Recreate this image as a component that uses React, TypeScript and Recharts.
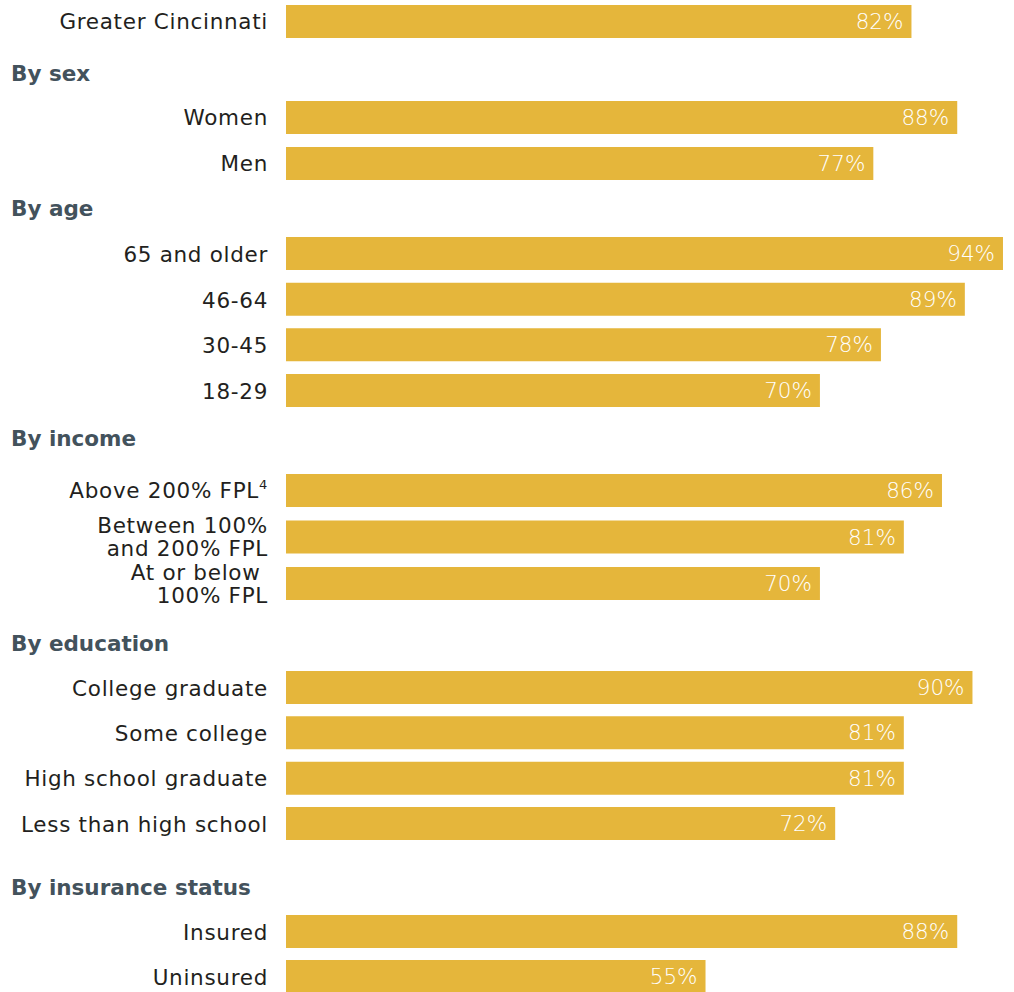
import React from 'react';
import { BarChart, Bar, XAxis, YAxis, LabelList } from 'recharts';

const overallLabels = ['Greater Cincinnati'];
const overallValues = [82];

const sexLabels = ['Women', 'Men'];
const sexValues = [88, 77];

const ageLabels = ['65 and older', '46-64', '30-45', '18-29'];
const ageValues = [94, 89, 78, 70];

const incomeLabels = ['Above 200% FPL', 'Between 100%\nand 200% FPL', 'At or below \n100% FPL'];
const incomeNotes = ['4', '', ''];
const incomeValues = [86, 81, 70];

const eduLabels = ['College graduate', 'Some college', 'High school graduate', 'Less than high school'];
const eduValues = [90, 81, 81, 72];

const insLabels = ['Insured', 'Uninsured'];
const insValues = [88, 55];

const headers = ['By sex', 'By age', 'By income', 'By education', 'By insurance status'];

const BAR_COLOR = '#E5B63B';
const HEADER_COLOR = '#43525C';
const TEXT_COLOR = '#231F20';
const FONT = '"DejaVu Sans", sans-serif';
const PAD = 10;

const Tick = (props: any) => {
  const { x, y, payload, notes, labels } = props;
  const label: string = payload.value;
  const idx = labels.indexOf(label);
  const note = notes ? notes[idx] : '';
  const lines = label.split('\n');
  const lh = 23;
  return (
    <text
      x={x}
      y={y}
      textAnchor="end"
      fill={TEXT_COLOR}
      fontFamily={FONT}
      fontSize={21.5}
      fontWeight={400}
      letterSpacing={0.7}
    >
      {lines.map((ln, i) => (
        <tspan key={i} x={x} dy={i === 0 ? -((lines.length - 1) / 2) * lh + 8 : lh}>
          {ln}
          {i === lines.length - 1 && note ? (
            <tspan fontSize={13} dy={-9}>{note}</tspan>
          ) : null}
        </tspan>
      ))}
    </text>
  );
};

const Group = ({ labels, values, notes, top, band }: any) => {
  const data = labels.map((name: string, i: number) => ({ name, value: values[i] }));
  const h = labels.length * band + PAD * 2;
  return (
    <div style={{ position: 'absolute', left: 0, top: top - PAD }}>
      <BarChart
        width={1014}
        height={h}
        data={data}
        layout="vertical"
        margin={{ top: PAD, bottom: PAD, left: 0, right: 11 }}
      >
        <XAxis type="number" domain={[0, 94]} hide />
        <YAxis
          type="category"
          dataKey="name"
          width={286}
          tickSize={0}
          tickMargin={18}
          axisLine={false}
          tickLine={false}
          interval={0}
          tick={<Tick notes={notes} labels={labels} />}
        />
        <Bar dataKey="value" fill={BAR_COLOR} barSize={33} isAnimationActive={false}>
          <LabelList
            dataKey="value"
            position="insideRight"
            offset={8}
            fill="#FFFFFF"
            fontFamily={FONT}
            fontSize={21.5}
            fontWeight={300}
            formatter={(v: any) => `${v}%`}
          />
        </Bar>
      </BarChart>
    </div>
  );
};

const Header = ({ text, cy }: any) => (
  <div
    style={{
      position: 'absolute',
      left: 11,
      top: cy - 13,
      height: 26,
      lineHeight: '26px',
      fontFamily: FONT,
      fontWeight: 700,
      fontSize: 21.5,
      color: HEADER_COLOR,
      whiteSpace: 'nowrap',
    }}
  >
    {text}
  </div>
);

export default function App() {
  return (
    <div
      style={{
        position: 'absolute',
        left: 0,
        top: 0,
        width: 1014,
        height: 992,
        overflow: 'hidden',
        background: '#FFFFFF',
      }}
    >
      <Group labels={overallLabels} values={overallValues} top={-2.5} band={46} />
      <Header text={headers[0]} cy={74} />
      <Group labels={sexLabels} values={sexValues} top={93.5} band={46} />
      <Header text={headers[1]} cy={209} />
      <Group labels={ageLabels} values={ageValues} top={230.7} band={45.67} />
      <Header text={headers[2]} cy={439} />
      <Group labels={incomeLabels} values={incomeValues} notes={incomeNotes} top={467.25} band={46.5} />
      <Header text={headers[3]} cy={644} />
      <Group labels={eduLabels} values={eduValues} top={664.8} band={45.33} />
      <Header text={headers[4]} cy={888} />
      <Group labels={insLabels} values={insValues} top={909} band={45} />
    </div>
  );
}
